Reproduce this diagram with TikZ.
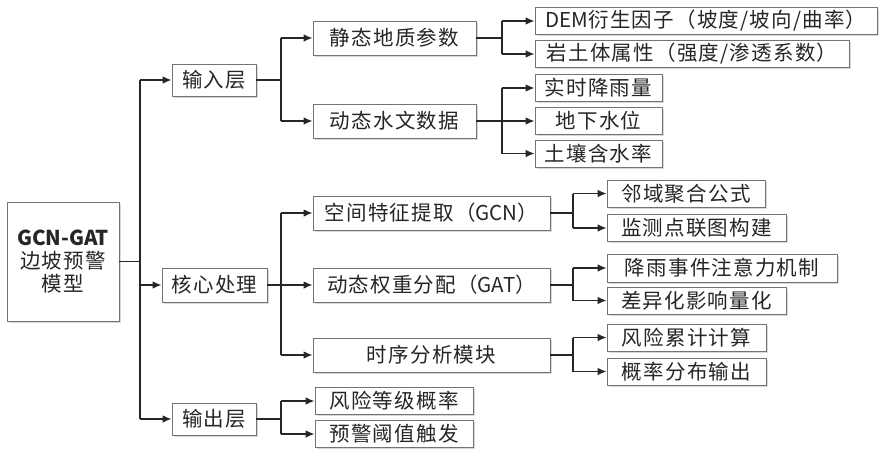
\documentclass[tikz,border=0pt]{standalone}
\usepackage{fontspec}
\setmainfont{Noto Sans CJK SC}
\usetikzlibrary{arrows.meta,shadows}
\newcommand{\lat}[1]{{\addfontfeature{LetterSpace=0}#1}}
\begin{document}
\begin{tikzpicture}[x=1pt,y=-1pt,
  box/.style={draw=black!55,line width=0.9pt,fill=white,rectangle,inner sep=0pt,
    text=black!85,font=\fontsize{20.5}{23}\selectfont\addfontfeature{LetterSpace=6},
    drop shadow={shadow xshift=1.5pt,shadow yshift=-1.5pt,fill=black!25,opacity=0.6}},
  conn/.style={draw=black!85,line width=1.3pt},
  arr/.style={conn,-{Latex[length=9pt,width=7.5pt]}}]
\useasboundingbox (0,0) rectangle (884,453);
\fill[white] (0,0) rectangle (884,453);
% root
\node[box,minimum width=112pt,minimum height=119pt,align=center] (root) at (63,261.5)
  {{\bfseries\addfontfeature{LetterSpace=0}GCN-GAT}\\边坡预警\\模型};
% level 1
\node[box,minimum width=84pt,minimum height=32pt] (in) at (214,80) {输入层};
\node[box,minimum width=105pt,minimum height=34pt] (core) at (214.5,285) {核心处理};
\node[box,minimum width=84pt,minimum height=32pt] (out) at (214,419) {输出层};
% level 2
\node[box,minimum width=163pt,minimum height=34pt] (s1) at (394.5,38) {静态地质参数};
\node[box,minimum width=163pt,minimum height=34pt] (s2) at (394.5,121) {动态水文数据};
\node[box,minimum width=237pt,minimum height=34pt] (c1) at (431.5,213) {空间特征提取（\lat{GCN}）};
\node[box,minimum width=237pt,minimum height=34pt] (c2) at (431.5,285) {动态权重分配（\lat{GAT}）};
\node[box,minimum width=237pt,minimum height=34pt] (c3) at (431.5,355) {时序分析模块};
\node[box,minimum width=158pt,minimum height=27pt] (o1) at (394,401) {风险等级概率};
\node[box,minimum width=158pt,minimum height=27pt] (o2) at (394,434) {预警阈值触发};
% leaves
\node[box,minimum width=342pt,minimum height=27pt] (a1) at (706,21) {\lat{DEM}衍生因子（坡度/坡向/曲率）};
\node[box,minimum width=314pt,minimum height=27pt] (a2) at (692,54) {岩土体属性（强度/渗透系数）};
\node[box,minimum width=127pt,minimum height=27pt] (b1) at (598.5,88) {实时降雨量};
\node[box,minimum width=127pt,minimum height=27pt] (b2) at (598.5,121) {地下水位};
\node[box,minimum width=127pt,minimum height=27pt] (b3) at (598.5,153.5) {土壤含水率};
\node[box,minimum width=158pt,minimum height=27pt] (d1) at (686,193.5) {邻域聚合公式};
\node[box,minimum width=179pt,minimum height=27pt] (d2) at (696.5,228) {监测点联图构建};
\node[box,minimum width=230pt,minimum height=28pt] (e1) at (722,268) {降雨事件注意力机制};
\node[box,minimum width=179pt,minimum height=27pt] (e2) at (696.5,300.5) {差异化影响量化};
\node[box,minimum width=159pt,minimum height=27pt] (f1) at (686.5,337.5) {风险累计计算};
\node[box,minimum width=159pt,minimum height=27pt] (f2) at (686.5,371.5) {概率分布输出};
% junction columns
\coordinate (j0) at (140,0);
\coordinate (j1) at (281,0);
\coordinate (j2) at (502,0);
\coordinate (j3) at (573,0);
% root -> level 1
\draw[conn] (root.east) -- (j0 |- root.east);
\draw[conn] (j0 |- in.west) -- (j0 |- out.west);
\foreach \n in {in,core,out} \draw[arr] (j0 |- \n.west) -- (\n.west);
% input
\draw[conn] (in.east) -- (j1 |- in.east);
\draw[conn] (j1 |- s1.west) -- (j1 |- s2.west);
\foreach \n in {s1,s2} \draw[arr] (j1 |- \n.west) -- (\n.west);
\draw[conn] (s1.east) -- (j2 |- s1.east);
\draw[conn] (j2 |- a1.west) -- (j2 |- a2.west);
\foreach \n in {a1,a2} \draw[arr] (j2 |- \n.west) -- (\n.west);
\draw[conn] (s2.east) -- (j2 |- s2.east);
\draw[conn] (j2 |- b1.west) -- (j2 |- b3.west);
\foreach \n in {b1,b2,b3} \draw[arr] (j2 |- \n.west) -- (\n.west);
% core
\draw[conn] (core.east) -- (j1 |- core.east);
\draw[conn] (j1 |- c1.west) -- (j1 |- c3.west);
\foreach \n in {c1,c2,c3} \draw[arr] (j1 |- \n.west) -- (\n.west);
\draw[conn] (c1.east) -- (j3 |- c1.east);
\draw[conn] (j3 |- d1.west) -- (j3 |- d2.west);
\foreach \n in {d1,d2} \draw[arr] (j3 |- \n.west) -- (\n.west);
\draw[conn] (c2.east) -- (j3 |- c2.east);
\draw[conn] (j3 |- e1.west) -- (j3 |- e2.west);
\foreach \n in {e1,e2} \draw[arr] (j3 |- \n.west) -- (\n.west);
\draw[conn] (c3.east) -- (j3 |- c3.east);
\draw[conn] (j3 |- f1.west) -- (j3 |- f2.west);
\foreach \n in {f1,f2} \draw[arr] (j3 |- \n.west) -- (\n.west);
% output
\draw[conn] (out.east) -- (j1 |- out.east);
\draw[conn] (j1 |- o1.west) -- (j1 |- o2.west);
\foreach \n in {o1,o2} \draw[arr] (j1 |- \n.west) -- (\n.west);
\end{tikzpicture}
\end{document}
